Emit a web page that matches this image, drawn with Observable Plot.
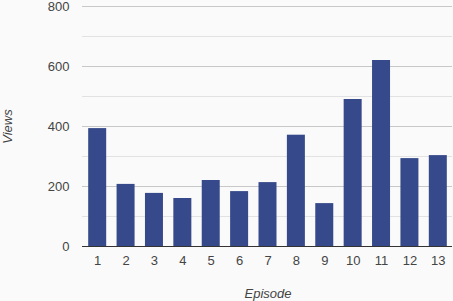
<!DOCTYPE html>
<html><head>
<meta charset="utf-8">
<script src="https://cdn.jsdelivr.net/npm/d3@7"></script>
<script src="https://cdn.jsdelivr.net/npm/@observablehq/plot@0.6"></script>
<style>
body{margin:0;background:#fafafa}
g[aria-label="x-axis label"], g[aria-label="y-axis label"]{font-style:italic}
</style>
</head><body><div id="chart"></div>
<script>
const episodes = ["1","2","3","4","5","6","7","8","9","10","11","12","13"];
const views = [393, 207, 177, 160, 220, 183, 213, 371, 143, 490, 620, 293, 303];
const majorTicks = [0, 200, 400, 600, 800];
const minorTicks = [100, 300, 500, 700];
const data = episodes.map((e, i) => ({episode: e, views: views[i]}));

const chart = Plot.plot({
  width: 453, height: 301,
  marginTop: 6, marginBottom: 55, marginLeft: 83, marginRight: 1,
  style: {background: "#fafafa", fontFamily: "'Liberation Sans', Arial, sans-serif", fontSize: "13px", color: "#444"},
  x: {domain: episodes, paddingInner: 0.366, paddingOuter: 0.183, round: false},
  y: {domain: [0, 800]},
  marks: [
    Plot.ruleY(minorTicks, {stroke: "#e2e2e2", insetLeft: -1}),
    Plot.ruleY(majorTicks, {stroke: "#c8c8c8", insetLeft: -1}),
    Plot.barY(data, {x: "episode", y: "views", fill: "#36498a"}),
    Plot.ruleY([0], {stroke: "#333", insetLeft: -1}),
    Plot.axisX({tickSize: 0, tickPadding: 9, label: "Episode", labelAnchor: "center", labelArrow: "none", labelOffset: 51}),
    Plot.axisY({ticks: majorTicks, tickSize: 0, tickPadding: 14, label: "Views", labelAnchor: "center", labelArrow: "none", labelOffset: 81})
  ]
});
document.getElementById("chart").appendChild(chart);
</script>
</body></html>
